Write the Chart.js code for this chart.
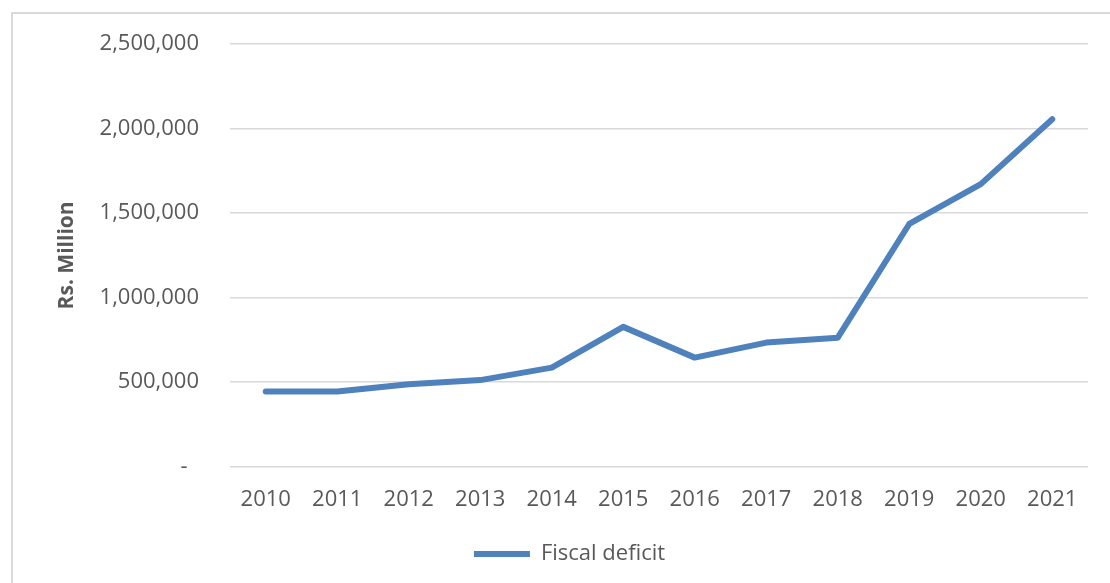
<!DOCTYPE html>
<html>
<head>
<meta charset="utf-8">
<script src="https://cdn.jsdelivr.net/npm/chart.js@4"></script>
<style>
  html, body { margin: 0; padding: 0; background: #fff; overflow: hidden; }
  #wrap { position: relative; width: 1110px; height: 583px; }
  #frame { position: absolute; left: 11px; top: 12px; width: 1200px; height: 700px;
           border-top: 2px solid #d9d9d9; border-left: 2px solid #d9d9d9; }
  #chartDeficit { position: absolute; left: 0; top: 0; }
</style>
</head>
<body>
<div id="wrap">
  <div id="frame"></div>
  <canvas id="chartDeficit" width="1110" height="583"></canvas>
</div>
<script>
// anos e deficit fiscal (Rs. Million)
const anos = ['2010', '2011', '2012', '2013', '2014', '2015', '2016', '2017', '2018', '2019', '2020', '2021'];
const deficitFiscal = [444000, 445000, 488000, 512000, 586000, 827000, 645000, 734000, 763000, 1436000, 1672000, 2056000];
const ticksY = [0, 500000, 1000000, 1500000, 2000000, 2500000];

const cinza = '#595959';
const azul = '#4f81bd';

const ctx = document.getElementById('chartDeficit');

new Chart(ctx, {
  type: 'line',
  data: {
    labels: anos,
    datasets: [{
      label: 'Fiscal deficit',
      data: deficitFiscal,
      borderColor: azul,
      backgroundColor: azul,
      borderWidth: 6,
      borderCapStyle: 'round',
      borderJoinStyle: 'round',
      pointRadius: 0,
      tension: 0
    }]
  },
  options: {
    responsive: false,
    animation: false,
    layout: {
      padding: { left: 51, right: 22, top: 42, bottom: 8 }
    },
    plugins: {
      tooltip: { enabled: false },
      legend: {
        position: 'bottom',
        labels: {
          usePointStyle: true,
          pointStyle: 'line',
          pointStyleWidth: 56,
          color: cinza,
          padding: 10,
          font: { family: 'Open Sans', size: 22 }
        }
      }
    },
    scales: {
      x: {
        offset: true,
        grid: { display: false, drawTicks: false },
        border: { display: false },
        ticks: {
          color: cinza,
          padding: 20,
          maxRotation: 0,
          font: { family: 'Open Sans', size: 22 }
        }
      },
      y: {
        min: 0,
        max: 2500000,
        afterFit: function (scale) {
          scale.width = 179;
        },
        afterBuildTicks: function (scale) {
          scale.ticks = ticksY.map(v => ({ value: v }));
        },
        grid: { color: '#d9d9d9', lineWidth: 1.5, drawTicks: false },
        border: { display: false },
        ticks: {
          color: cinza,
          padding: 31,
          font: { family: 'Open Sans', size: 22 },
          callback: function (value) {
            return value === 0 ? '-  ' : value.toLocaleString('en-US');
          }
        },
        title: {
          display: true,
          text: 'Rs. Million',
          color: cinza,
          padding: { top: 3, bottom: 0 },
          font: { family: 'Open Sans', size: 21, weight: 'bold' }
        }
      }
    }
  }
});
</script>
</body>
</html>
